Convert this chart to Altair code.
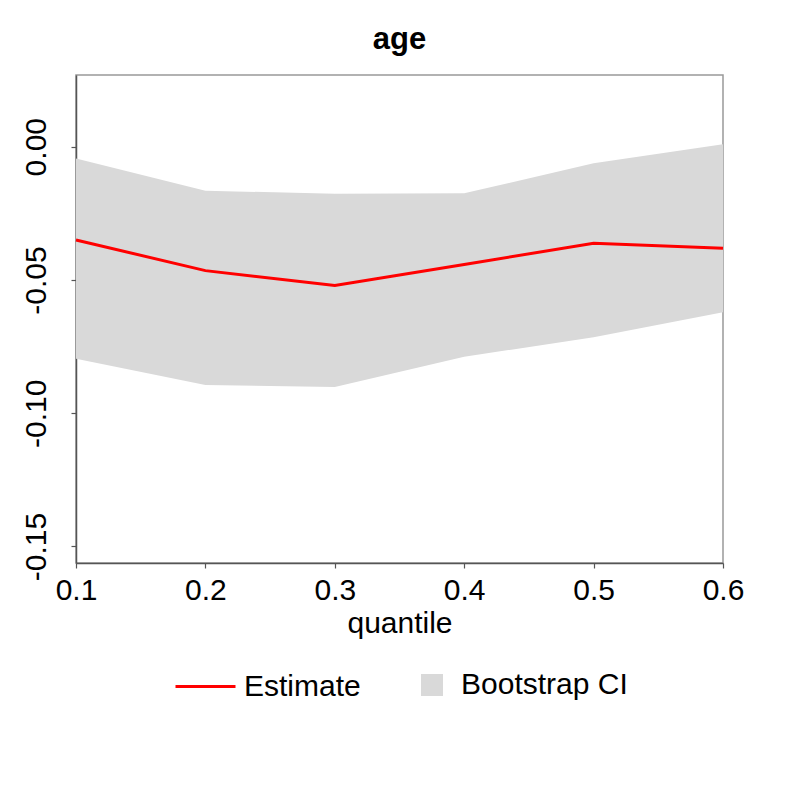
import altair as alt
import pandas as pd

quantiles = [0.1, 0.2, 0.3, 0.4, 0.5, 0.6]
estimate = [-0.0350, -0.0465, -0.0521, -0.0442, -0.0362, -0.0381]
ci_upper = [-0.0044, -0.0165, -0.0177, -0.0175, -0.0062, 0.0009]
ci_lower = [-0.0796, -0.0894, -0.0902, -0.0788, -0.0715, -0.0621]
y_ticks = [0.0, -0.05, -0.10, -0.15]
x_ticks = [0.1, 0.2, 0.3, 0.4, 0.5, 0.6]

df = pd.DataFrame({
    "quantile": quantiles,
    "estimate": estimate,
    "upper": ci_upper,
    "lower": ci_lower,
    "s_est": ["Estimate"] * len(quantiles),
    "s_ci": ["Bootstrap CI"] * len(quantiles),
})

FONT = "Liberation Sans"

xscale = alt.Scale(domain=[0.1, 0.6], nice=False, zero=False)
yscale = alt.Scale(domain=[-0.1562, 0.0269], nice=False, zero=False)

xaxis = alt.Axis(
    values=x_ticks, format=".1f", grid=False, tickSize=5,
    domainColor="#555555", tickColor="#555555", domainWidth=1.5, tickWidth=1.2,
    labelColor="black",
    labelFont=FONT, labelFontSize=30, labelFlush=False, labelOverlap=False,
    labelBaseline="alphabetic", labelPadding=31,
    title="quantile", titleFont=FONT, titleFontSize=30, titleFontWeight="normal",
    titleColor="black", titleBaseline="alphabetic", titleY=69,
)
yaxis = alt.Axis(
    values=y_ticks, grid=False, tickSize=5,
    labelExpr="replace(format(datum.value, '.2f'), '\u2212', '-')",
    domainColor="#555555", tickColor="#555555", domainWidth=1.5, tickWidth=1.2,
    labelColor="black",
    labelFont=FONT, labelFontSize=30, labelFlush=False, labelOverlap=False,
    labelAngle=270, labelAlign="center", labelBaseline="alphabetic", labelPadding=26,
    title=None,
)

band = alt.Chart(df).mark_area().encode(
    x=alt.X("quantile:Q", scale=xscale, axis=xaxis),
    y=alt.Y("lower:Q", scale=yscale, axis=yaxis),
    y2="upper:Q",
    fill=alt.Fill(
        "s_ci:N",
        scale=alt.Scale(domain=["Bootstrap CI"], range=["#d9d9d9"]),
        legend=alt.Legend(
            title=None, orient="none", legendX=341, legendY=595,
            symbolType="square", symbolSize=484, symbolStrokeWidth=0,
            labelFont=FONT, labelFontSize=30, labelColor="black", labelOffset=14,
            labelLimit=0,
        ),
    ),
)

line = alt.Chart(df).mark_line(strokeWidth=3).encode(
    x=alt.X("quantile:Q", scale=xscale),
    y=alt.Y("estimate:Q", scale=yscale),
    stroke=alt.Stroke(
        "s_est:N",
        scale=alt.Scale(domain=["Estimate"], range=["#ff0000"]),
        legend=alt.Legend(
            title=None, orient="none", legendX=98, legendY=580,
            symbolType="stroke", symbolSize=3600, symbolStrokeWidth=3,
            labelFont=FONT, labelFontSize=30, labelColor="black", labelOffset=7,
            labelLimit=0,
        ),
    ),
)

chart = alt.layer(band, line).properties(
    width=647,
    height=488,
    background="white",
    autosize=alt.AutoSizeParams(type="none"),
    padding={"left": 68, "top": 67, "right": 69, "bottom": 229},
    title=alt.TitleParams(
        "age", font=FONT, fontSize=31, fontWeight="bold", color="black",
        anchor="middle", frame="group", baseline="alphabetic", offset=27, dy=32,
    ),
).configure_view(stroke="#999999", strokeWidth=1.5)

chart.save("out.html", embed_options={"renderer": "svg", "actions": False})
